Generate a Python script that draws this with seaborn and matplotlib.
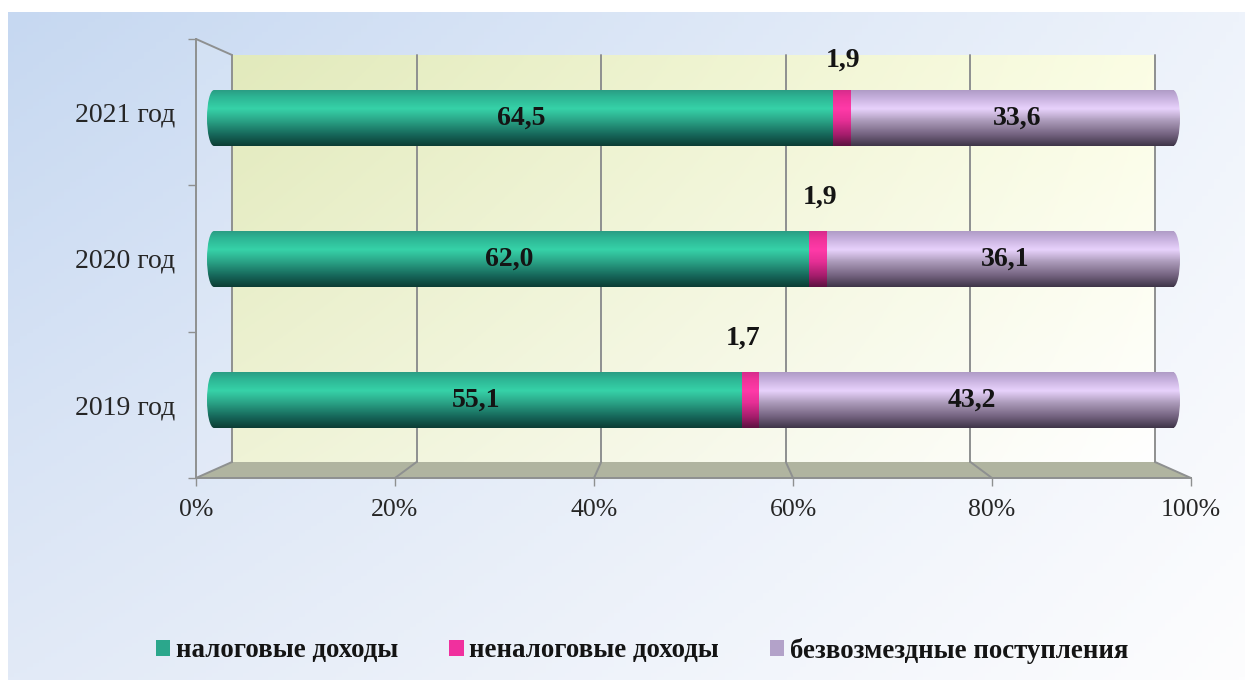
import matplotlib
matplotlib.use("Agg")
import matplotlib.pyplot as plt
from matplotlib.colors import LinearSegmentedColormap
from matplotlib.patches import Ellipse, Polygon
import numpy as np
import pandas as pd
import seaborn as sns

years = ["2021 год", "2020 год", "2019 год"]
tax_income = [64.5, 62.0, 55.1]
non_tax_income = [1.9, 1.9, 1.7]
free_income = [33.6, 36.1, 43.2]
series_names = ["налоговые доходы", "неналоговые доходы", "безвозмездные поступления"]
x_ticks = [0, 20, 40, 60, 80, 100]
x_tick_labels = ["0%", "20%", "40%", "60%", "80%", "100%"]

W, H = 1252, 680
GRID = "#8e9090"
SERIF = ["Liberation Serif", "DejaVu Serif"]

sns.set_style("white")
plt.rcParams["font.family"] = SERIF
plt.rcParams["text.color"] = "#141414"

# top to bottom shading of each cylinder
stops = [0, 0.12, 0.33, 0.55, 0.8, 1]
shades = {
    series_names[0]: ["#2a9d84", "#2db594", "#36d2a8", "#2aa386", "#16675a", "#0c3d34"],
    series_names[1]: ["#d62c8c", "#ee3298", "#ff3aa8", "#e52f95", "#a51d6c", "#5c1240"],
    series_names[2]: ["#b09cc6", "#c4aedb", "#e8d2fc", "#ac9bba", "#73627f", "#3f3548"],
}
flat = {series_names[0]: "#2ba78c", series_names[1]: "#f0309e", series_names[2]: "#b3a2c9"}


def pixel_rect(x0, y0, x1, y1):
    return [x0 / W, 1 - y1 / H, (x1 - x0) / W, (y1 - y0) / H]


def bilinear(tl, tr, bl, br, n=200):
    u, v = np.meshgrid(np.linspace(0, 1, n), np.linspace(0, 1, n))
    corners = [np.array(matplotlib.colors.to_rgb(c)) for c in (tl, tr, bl, br)]
    u, v = u[..., None], v[..., None]
    return (1 - v) * ((1 - u) * corners[0] + u * corners[1]) + v * ((1 - u) * corners[2] + u * corners[3])


fig = plt.figure(figsize=(W / 100, H / 100), dpi=100, facecolor="white")

# slide background and the fake 3d box, in pixels
bg = fig.add_axes([0, 0, 1, 1])
bg.axis("off")
bg.imshow(bilinear("#c6d8f1", "#eef3fb", "#e2eaf7", "#fdfdfe"), extent=(8, 1245, 680, 12), aspect="auto", zorder=0)
bg.imshow(bilinear("#e2eabc", "#fbfde4", "#eff3d6", "#ffffff"), extent=(232, 1156, 462, 55), aspect="auto", zorder=1)
bg.set_xlim(0, W)
bg.set_ylim(H, 0)
bg.add_patch(Polygon([(196, 39), (232, 55), (232, 462), (196, 478)], fc="white", alpha=0.12, ec="none", zorder=1))
bg.add_patch(Polygon([(196, 478), (1191, 478), (1156, 462), (232, 462)], fc="#b0b4a0", ec="none", zorder=2))
bg.plot([196, 232], [39, 55], color=GRID, lw=1.4, zorder=3)
for i in range(6):
    back = 232 + i * 184.6
    front_x = 196 + i * 199
    bg.plot([back, back], [55, 462], color=GRID, lw=1.4, zorder=3)
    bg.plot([back, front_x], [462, 478], color=GRID, lw=1.4, zorder=3)

# front axis with the percent ticks and the year labels
front = fig.add_axes(pixel_rect(196, 39, 1191, 478))
front.patch.set_visible(False)
front.set_xlim(0, 100)
front.set_ylim(0, 3)
front.set_xticks(x_ticks, x_tick_labels, fontsize=18.5)
front.set_yticks([0, 1, 2, 3], [])
front.set_yticks([2.5, 1.5, 0.5], years, minor=True, fontsize=20)
front.tick_params(axis="both", length=6, width=1, color=GRID, bottom=True, left=True, pad=9)
front.tick_params(axis="y", which="minor", length=0, pad=15)
for side in ["top", "right"]:
    front.spines[side].set_visible(False)
for side in ["left", "bottom"]:
    front.spines[side].set_color(GRID)
    front.spines[side].set_linewidth(1.4)

# bars, the axes run 2 units past each end so the round caps are not cut off
px_per_unit = 959 / 100
ax = fig.add_axes(pixel_rect(214 - 2 * px_per_unit, 47.5, 1173 + 2 * px_per_unit, 470.5))
ax.patch.set_visible(False)
values = [tax_income, non_tax_income, free_income]
left = np.zeros(len(years))
segments = []
for name, vals in zip(series_names, values):
    df = pd.DataFrame({"year": years, "value": vals})
    before = len(ax.patches)
    sns.barplot(data=df, x="value", y="year", orient="y", left=left, width=0.397, color=flat[name],
                saturation=1, linewidth=0, label=name, legend=False, ax=ax)
    segments.append((name, ax.patches[before:]))
    left = left + np.array(vals)

cap = 7 / px_per_unit
grad = np.linspace(0, 1, 128)[:, None]
for name, patches in segments:
    cmap = LinearSegmentedColormap.from_list(name, list(zip(stops, shades[name])))
    for p in patches:
        x0, y0 = p.get_x(), p.get_y()
        w, h = p.get_width(), p.get_height()
        im = ax.imshow(grad, cmap=cmap, extent=(x0, x0 + w, y0 + h, y0), aspect="auto", zorder=3)
        im.set_clip_path(p)
        if name == series_names[0]:
            e = Ellipse((x0, y0 + h / 2), 2 * cap, h, fc="none", ec="none")
            ax.add_patch(e)
            im = ax.imshow(grad, cmap=cmap, extent=(x0 - cap, x0 + cap, y0 + h, y0), aspect="auto", zorder=3)
            im.set_clip_path(e)
        if name == series_names[2]:
            # only the outer half of the end cap, so no seam shows on the body
            e = Ellipse((x0 + w, y0 + h / 2), 2 * cap, h, fc="none", ec="none")
            ax.add_patch(e)
            im = ax.imshow(grad, cmap=cmap, extent=(x0 + w, x0 + w + cap, y0 + h, y0), aspect="auto", zorder=3)
            im.set_clip_path(e)

ax.set_xlim(-2, 102)
ax.set_ylim(2.5, -0.5)
ax.set_xlabel("")
ax.set_ylabel("")
ax.set_xticks([])
ax.set_yticks([])
sns.despine(ax=ax, left=True, bottom=True)


def comma(v):
    return f"{v:.1f}".replace(".", ",")


# value labels, shifts are in pixels
small_dx = [1, 2, -7]
small_dy = [58, 62, 62]
big = dict(ha="center", va="center", fontsize=20, fontweight="bold", zorder=5, textcoords="offset points")
for i in range(len(years)):
    ax.annotate(comma(tax_income[i]), (tax_income[i] / 2, i), xytext=(-1.5, 0), **big)
    start = tax_income[i] + non_tax_income[i]
    ax.annotate(comma(free_income[i]), (start + free_income[i] / 2, i), xytext=(4, 0), **big)
    ax.annotate(comma(non_tax_income[i]), (tax_income[i] + non_tax_income[i] / 2, i),
                xytext=(small_dx[i] * 0.72, small_dy[i] * 0.72), **big)

handles, labels = ax.get_legend_handles_labels()
fig.legend(handles, labels, loc="center", bbox_to_anchor=(642 / W, 1 - 650.5 / H), ncol=3, frameon=False,
           prop={"family": SERIF, "weight": "bold", "size": 19.4},
           handlelength=0.53, handleheight=0.53, handletextpad=0.2, columnspacing=1.9, borderpad=0)

fig.savefig("out.png", dpi=100)
